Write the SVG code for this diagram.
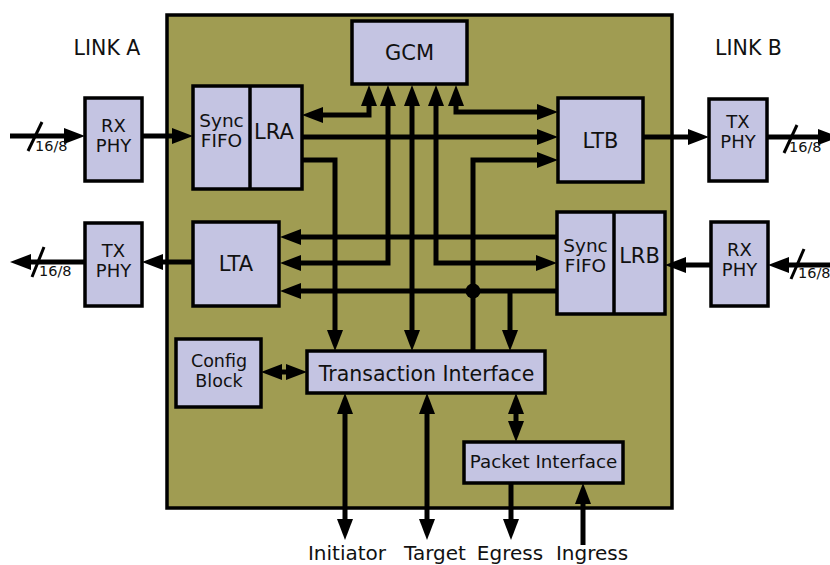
<svg xmlns="http://www.w3.org/2000/svg" width="830" height="565" viewBox="0 0 830 565">
  <style>
    .box { fill: #C4C4E2; stroke: #000; stroke-width: 3.5; }
    .lbl { font-family: "DejaVu Sans", Verdana, sans-serif; fill: #111; text-anchor: middle; }
    .wire { fill: none; stroke: #000; stroke-width: 5; }
    .arr { marker-end: url(#head); }
    .arr2 { marker-start: url(#head); marker-end: url(#head); }
    .slash { stroke: #000; stroke-width: 3; }
    .bus { font-family: "DejaVu Sans", Verdana, sans-serif; font-size: 14.5px; fill: #111; }
  </style>
  <defs>
    <marker id="head" markerUnits="userSpaceOnUse" viewBox="0 0 21 16" markerWidth="21" markerHeight="16" refX="9" refY="8" orient="auto-start-reverse">
      <path d="M0,0 L21,8 L0,16 Z" fill="#000"/>
    </marker>
  </defs>

  <rect width="830" height="565" fill="#fff"/>

  <!-- chip boundary -->
  <rect id="chip" x="167" y="15" width="505" height="493" fill="#A09C52" stroke="#000" stroke-width="3.5"/>

  <text class="lbl" x="107" y="55" font-size="20.5">LINK A</text>
  <text class="lbl" x="748.5" y="55" font-size="20.5">LINK B</text>

  <g id="connectors">
    <!-- link A -->
    <path class="wire arr" d="M10,136 H73"/>
    <path class="wire arr" d="M142,136 H181"/>
    <path class="wire arr" d="M193,262 H154"/>
    <path class="wire arr" d="M85,262 H22"/>
    <!-- link B -->
    <path class="wire arr" d="M643,137 H697"/>
    <path class="wire arr" d="M767,137 H827"/>
    <path class="wire arr" d="M830,265 H780"/>
    <path class="wire arr" d="M711,265 H677"/>
    <!-- GCM fan -->
    <path class="wire arr2" d="M314,115 H369 V97"/>
    <path class="wire arr2" d="M388,97 V263 H292"/>
    <path class="wire arr2" d="M412,97 V339"/>
    <path class="wire arr2" d="M436,97 V263 H545"/>
    <path class="wire arr2" d="M456,97 V112 H546"/>
    <!-- LRA outputs -->
    <path class="wire arr" d="M302,137 H546"/>
    <path class="wire arr" d="M302,160 H335 V339"/>
    <!-- LRB outputs -->
    <path class="wire arr" d="M473,351 V160 H546"/>
    <path class="wire arr" d="M557,237 H292"/>
    <path class="wire arr" d="M557,291 H292"/>
    <path class="wire arr" d="M510,291 V339"/>
    <circle cx="473" cy="291" r="7.5" fill="#000"/>
    <!-- config / packet -->
    <path class="wire arr2" d="M273,372 H295"/>
    <path class="wire arr2" d="M516,405 V430"/>
    <!-- external ports -->
    <path class="wire arr2" d="M345,405 V528"/>
    <path class="wire arr2" d="M427,405 V528"/>
    <path class="wire arr" d="M511,483 V528"/>
    <path class="wire arr" d="M583,545 V495"/>
    <!-- bus width marks -->
    <line class="slash" x1="28" y1="151" x2="42" y2="122"/>
    <line class="slash" x1="32" y1="277" x2="44" y2="247"/>
    <line class="slash" x1="784" y1="153" x2="797" y2="125"/>
    <line class="slash" x1="791" y1="279" x2="804" y2="249"/>
  </g>
  <text class="bus" x="35" y="151">16/8</text>
  <text class="bus" x="39" y="276">16/8</text>
  <text class="bus" x="789" y="152">16/8</text>
  <text class="bus" x="798" y="278">16/8</text>

  <g id="rxphy-a">
    <rect class="box" x="85" y="98" width="57" height="83"/>
    <text class="lbl" x="113.5" y="132" font-size="18">RX</text>
    <text class="lbl" x="113.5" y="152" font-size="18">PHY</text>
  </g>
  <g id="txphy-a">
    <rect class="box" x="85" y="223" width="57" height="83"/>
    <text class="lbl" x="113.5" y="257" font-size="18">TX</text>
    <text class="lbl" x="113.5" y="277" font-size="18">PHY</text>
  </g>
  <g id="txphy-b">
    <rect class="box" x="709" y="99" width="58" height="82"/>
    <text class="lbl" x="738" y="128" font-size="18">TX</text>
    <text class="lbl" x="738" y="148" font-size="18">PHY</text>
  </g>
  <g id="rxphy-b">
    <rect class="box" x="711" y="222" width="57" height="84"/>
    <text class="lbl" x="739.5" y="256" font-size="18">RX</text>
    <text class="lbl" x="739.5" y="276" font-size="18">PHY</text>
  </g>

  <g id="gcm">
    <rect class="box" x="352" y="21" width="115" height="63"/>
    <text class="lbl" x="409.5" y="60" font-size="21">GCM</text>
  </g>
  <g id="lra">
    <rect class="box" x="193" y="86" width="109" height="103"/>
    <line x1="250" y1="86" x2="250" y2="189" stroke="#000" stroke-width="3.5"/>
    <text class="lbl" x="221.5" y="127" font-size="18.5">Sync</text>
    <text class="lbl" x="221.5" y="147" font-size="18.5">FIFO</text>
    <text class="lbl" x="274" y="139" font-size="21">LRA</text>
  </g>
  <g id="ltb">
    <rect class="box" x="558" y="98" width="85" height="84"/>
    <text class="lbl" x="600.5" y="148" font-size="21">LTB</text>
  </g>
  <g id="lta">
    <rect class="box" x="193" y="222" width="86" height="84"/>
    <text class="lbl" x="236" y="271" font-size="21">LTA</text>
  </g>
  <g id="lrb">
    <rect class="box" x="557" y="212" width="108" height="102"/>
    <line x1="614" y1="212" x2="614" y2="314" stroke="#000" stroke-width="3.5"/>
    <text class="lbl" x="585.5" y="252" font-size="18.5">Sync</text>
    <text class="lbl" x="585.5" y="272" font-size="18.5">FIFO</text>
    <text class="lbl" x="639.5" y="263" font-size="21">LRB</text>
  </g>
  <g id="config">
    <rect class="box" x="176" y="339" width="85" height="68"/>
    <text class="lbl" x="219" y="367" font-size="17.5">Config</text>
    <text class="lbl" x="219" y="387" font-size="17.5">Block</text>
  </g>
  <g id="transaction">
    <rect class="box" x="307" y="351" width="238" height="42"/>
    <text class="lbl" x="426.5" y="381" font-size="20.5">Transaction Interface</text>
  </g>
  <g id="packet">
    <rect class="box" x="464" y="442" width="159" height="41"/>
    <text class="lbl" x="543.5" y="468" font-size="18.3">Packet Interface</text>
  </g>

  <g id="ports">
    <text class="lbl" x="347" y="560" font-size="20">Initiator</text>
    <text class="lbl" x="435" y="560" font-size="20">Target</text>
    <text class="lbl" x="510" y="560" font-size="20">Egress</text>
    <text class="lbl" x="592" y="560" font-size="20">Ingress</text>
  </g>
</svg>
